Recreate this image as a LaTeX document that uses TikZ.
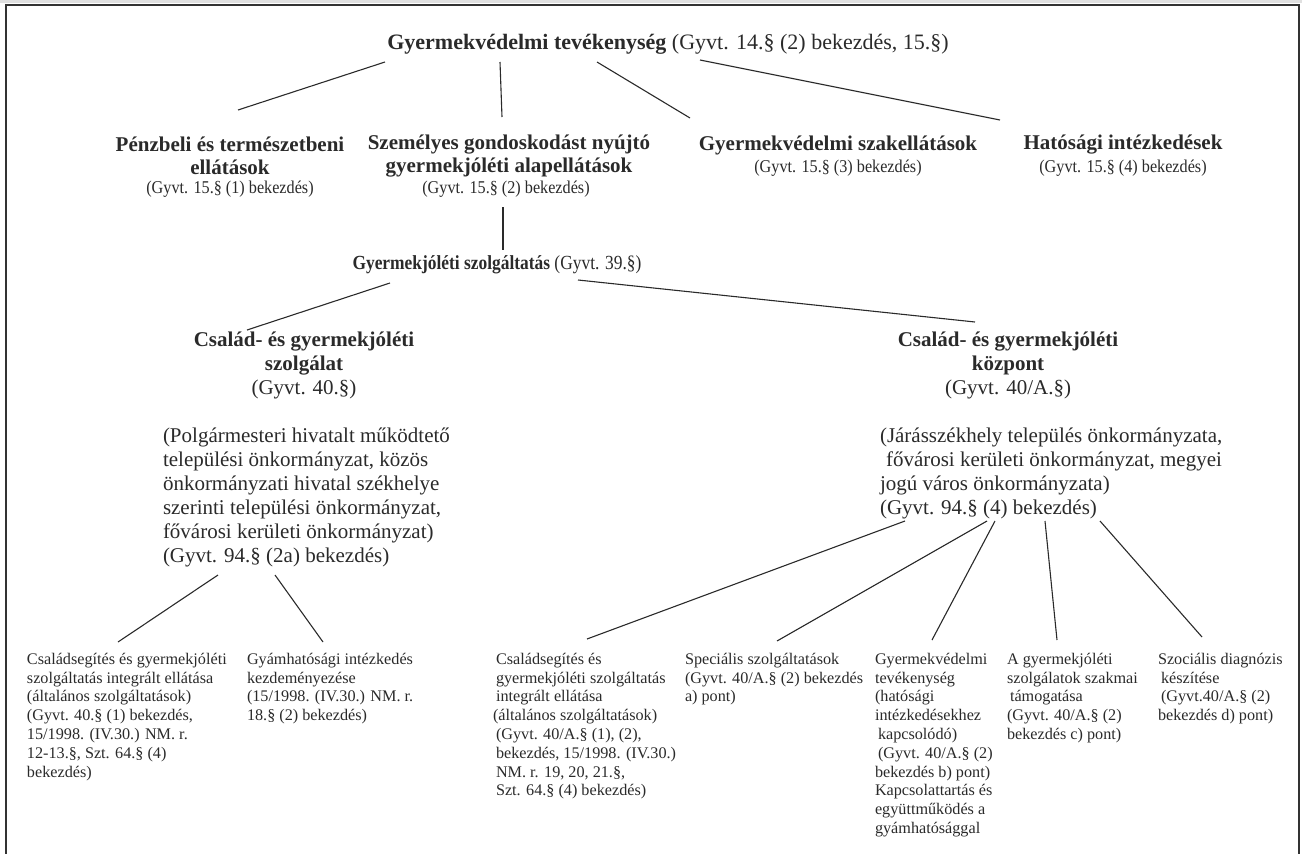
\documentclass[tikz,border=0pt]{standalone}
\usepackage{fontspec}
\setmainfont{Liberation Serif}
\newfontfamily\narrowA[FakeStretch=0.87]{Liberation Serif}
\newfontfamily\narrowB[FakeStretch=0.9]{Liberation Serif}
\newcommand{\fsz}[2]{\fontsize{#1}{#2}\selectfont}
\definecolor{ink}{HTML}{2A2A2A}
\definecolor{frame}{HTML}{333333}
\begin{document}
\begin{tikzpicture}[x=1pt,y=-1pt,
  txt/.style={inner sep=0pt, outer sep=0pt, text=ink},
  ttl/.style={txt, font=\fsz{22}{26}},
  hd/.style={txt, font=\fsz{21}{22.5}\bfseries, align=center},
  hdb/.style={txt, font=\fsz{21}{24}\bfseries, align=center},
  rf/.style={txt, font=\narrowB\fsz{18}{19}, align=center},
  para/.style={txt, font=\fsz{21}{24}, align=left, anchor=north west},
  leaf/.style={txt, font=\fsz{16.2}{18.8}, align=left, anchor=north west},
  conn/.style={draw=ink, line width=1.1pt}]
\useasboundingbox (0,0) rectangle (1302,854);
\fill[black!12] (0,0) rectangle (1302,3);
\draw[frame, line width=1.8pt] (6,854) -- (6,5) -- (1299,5) -- (1299,854);

% level 1
\node[ttl] (top) at (668,44) {\textbf{Gyermekvédelmi tevékenység} (Gyvt. 14.§ (2) bekezdés, 15.§)};

% level 2
\node[hd] (penzH) at (230,156) {Pénzbeli és természetbeni\\ellátások};
\node[rf] (penzR) at (230,189) {(Gyvt. 15.§ (1) bekezdés)};
\node[hd] (szemH) at (509,156) {Személyes gondoskodást nyújtó\\gyermekjóléti alapellátások};
\node[rf] (szemR) at (506,189) {(Gyvt. 15.§ (2) bekezdés)};
\node[hd] (szakH) at (838,145) {Gyermekvédelmi szakellátások};
\node[rf] (szakR) at (838,168) {(Gyvt. 15.§ (3) bekezdés)};
\node[hd] (hatH) at (1123,145) {Hatósági intézkedések};
\node[rf] (hatR) at (1123,168) {(Gyvt. 15.§ (4) bekezdés)};

% level 3
\node[txt, font=\narrowA\fsz{20}{22}] (gyjsz) at (497,265) {\textbf{Gyermekjóléti szolgáltatás} (Gyvt. 39.§)};

% level 4
\node[hdb] (csszH) at (304,365) {Család- és gyermekjóléti\\szolgálat\\{\mdseries (Gyvt. 40.§)}};
\node[hdb] (cskH) at (1008,365) {Család- és gyermekjóléti\\központ\\{\mdseries (Gyvt. 40/A.§)}};

\node[para] (polg) at (163,428) {(Polgármesteri hivatalt működtető\\települési önkormányzat, közös\\önkormányzati hivatal székhelye\\szerinti települési önkormányzat,\\fővárosi kerületi önkormányzat)\\(Gyvt. 94.§ (2a) bekezdés)};
\node[para] (jar) at (880,428) {(Járásszékhely település önkormányzata,\\\hspace*{6pt}fővárosi kerületi önkormányzat, megyei\\jogú város önkormányzata)\\(Gyvt. 94.§ (4) bekezdés)};

% leaves
\node[leaf] (leafA) at (27,653) {Családsegítés és gyermekjóléti\\szolgáltatás integrált ellátása\\(általános szolgáltatások)\\(Gyvt. 40.§ (1) bekezdés,\\15/1998. (IV.30.) NM. r.\\12-13.§, Szt. 64.§ (4)\\bekezdés)};
\node[leaf] (leafB) at (247,653) {Gyámhatósági intézkedés\\kezdeményezése\\(15/1998. (IV.30.) NM. r.\\18.§ (2) bekezdés)};
\node[leaf] (leafC) at (493,653) {\hspace*{3pt}Családsegítés és\\\hspace*{3pt}gyermekjóléti szolgáltatás\\\hspace*{3pt}integrált ellátása\\(általános szolgáltatások)\\\hspace*{3pt}(Gyvt. 40/A.§ (1), (2),\\\hspace*{3pt}bekezdés, 15/1998. (IV.30.)\\\hspace*{3pt}NM. r. 19, 20, 21.§,\\\hspace*{3pt}Szt. 64.§ (4) bekezdés)};
\node[leaf] (leafD) at (685,653) {Speciális szolgáltatások\\(Gyvt. 40/A.§ (2) bekezdés\\a) pont)};
\node[leaf] (leafE) at (875,653) {Gyermekvédelmi\\tevékenység\\(hatósági\\intézkedésekhez\\\hspace*{3pt}kapcsolódó)\\\hspace*{3pt}(Gyvt. 40/A.§ (2)\\bekezdés b) pont)\\Kapcsolattartás és\\együttműködés a\\gyámhatósággal};
\node[leaf] (leafF) at (1007,653) {A gyermekjóléti\\szolgálatok szakmai\\\hspace*{3pt}támogatása\\(Gyvt. 40/A.§ (2)\\bekezdés c) pont)};
\node[leaf] (leafG) at (1158,653) {Szociális diagnózis\\\hspace*{3pt}készítése\\\hspace*{3pt}(Gyvt.40/A.§ (2)\\bekezdés d) pont)};

% connectors
\draw[conn] ([shift={(-283,18)}]top.center) -- ([shift={(8,-46)}]penzH.center);
\draw[conn] ([shift={(-168,18)}]top.center) -- ([shift={(-7,-39)}]szemH.center);
\draw[conn] ([shift={(-71,18)}]top.center) -- ([shift={(-148,-27)}]szakH.center);
\draw[conn] ([shift={(32,16)}]top.center) -- ([shift={(-123,-25)}]hatH.center);
\draw[conn] ([shift={(-3,18)}]szemR.center) -- ([shift={(6,-15)}]gyjsz.center);
\draw[conn] ([shift={(-107,18)}]gyjsz.center) -- ([shift={(-57,-35)}]csszH.center);
\draw[conn] ([shift={(81,15)}]gyjsz.center) -- ([shift={(-33,-43)}]cskH.center);
\draw[conn] ([shift={(55,147)}]polg.north west) -- ([shift={(91,-11)}]leafA.north west);
\draw[conn] ([shift={(112,147)}]polg.north west) -- ([shift={(76,-11)}]leafB.north west);
\draw[conn] ([shift={(25,93)}]jar.north west) -- ([shift={(94,-14)}]leafC.north west);
\draw[conn] ([shift={(107,93)}]jar.north west) -- ([shift={(92,-12)}]leafD.north west);
\draw[conn] ([shift={(115,93)}]jar.north west) -- ([shift={(57,-13)}]leafE.north west);
\draw[conn] ([shift={(165,93)}]jar.north west) -- ([shift={(50,-13)}]leafF.north west);
\draw[conn] ([shift={(220,93)}]jar.north west) -- ([shift={(44,-16)}]leafG.north west);
\end{tikzpicture}
\end{document}
